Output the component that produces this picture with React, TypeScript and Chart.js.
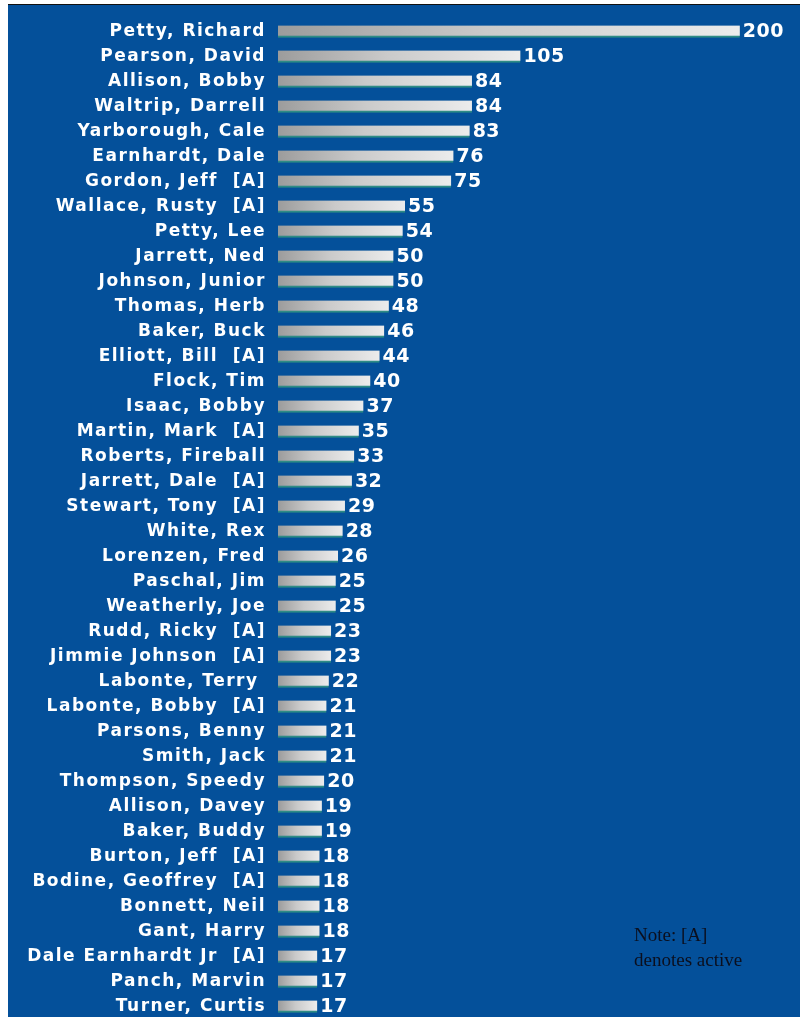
import React, { useEffect, useRef } from "react";
import { Chart, registerables } from "chart.js";

Chart.register(...registerables);

const drivers: string[] = [
  "Petty, Richard",
  "Pearson, David",
  "Allison, Bobby",
  "Waltrip, Darrell",
  "Yarborough, Cale",
  "Earnhardt, Dale",
  "Gordon, Jeff  [A]",
  "Wallace, Rusty  [A]",
  "Petty, Lee",
  "Jarrett, Ned",
  "Johnson, Junior",
  "Thomas, Herb",
  "Baker, Buck",
  "Elliott, Bill  [A]",
  "Flock, Tim",
  "Isaac, Bobby",
  "Martin, Mark  [A]",
  "Roberts, Fireball",
  "Jarrett, Dale  [A]",
  "Stewart, Tony  [A]",
  "White, Rex",
  "Lorenzen, Fred",
  "Paschal, Jim",
  "Weatherly, Joe",
  "Rudd, Ricky  [A]",
  "Jimmie Johnson  [A]",
  "Labonte, Terry ",
  "Labonte, Bobby  [A]",
  "Parsons, Benny",
  "Smith, Jack",
  "Thompson, Speedy",
  "Allison, Davey",
  "Baker, Buddy",
  "Burton, Jeff  [A]",
  "Bodine, Geoffrey  [A]",
  "Bonnett, Neil",
  "Gant, Harry",
  "Dale Earnhardt Jr  [A]",
  "Panch, Marvin",
  "Turner, Curtis",
];

const wins: number[] = [
  200, 105, 84, 84, 83, 76, 75, 55, 54, 50, 50, 48, 46, 44, 40, 37, 35, 33, 32,
  29, 28, 26, 25, 25, 23, 23, 22, 21, 21, 21, 20, 19, 19, 18, 18, 18, 18, 17,
  17, 17,
];

const noteLines: string[] = ["Note: [A]", "denotes active"];

const BLUE = "#04509a";

export default function App() {
  const ref = useRef<HTMLCanvasElement | null>(null);

  useEffect(() => {
    const canvas = ref.current;
    if (!canvas) return;

    const spacingPlugin = {
      id: "spacing",
      beforeDraw(chart: any) {
        (chart.ctx as any).letterSpacing = "1.5px";
      },
    };

    const valuePlugin = {
      id: "values",
      afterDatasetsDraw(chart: any) {
        const ctx = chart.ctx;
        const meta = chart.getDatasetMeta(0);
        ctx.save();
        (ctx as any).letterSpacing = "0.5px";
        ctx.fillStyle = "#ffffff";
        ctx.font = "bold 19px 'DejaVu Sans'";
        ctx.textAlign = "left";
        ctx.textBaseline = "middle";
        meta.data.forEach((bar: any, i: number) => {
          ctx.fillText(String(wins[i]), bar.x + 3, bar.y + 1);
        });
        ctx.restore();
      },
    };

    const chart = new Chart(canvas, {
      type: "bar",
      data: {
        labels: drivers,
        datasets: [
          {
            data: wins,
            backgroundColor: (c: any) => {
              const ch = c.chart;
              const xs = ch.scales && ch.scales.x;
              if (!xs || c.type !== "data") return "#cccccc";
              const v = wins[c.dataIndex];
              const x0 = xs.getPixelForValue(0);
              const x1 = xs.getPixelForValue(v);
              if (!isFinite(x0) || !isFinite(x1) || x1 <= x0) return "#cccccc";
              const g = ch.ctx.createLinearGradient(x0, 0, x1, 0);
              g.addColorStop(0, "#9c9c9c");
              g.addColorStop(0.45, "#cacaca");
              g.addColorStop(1, "#ececec");
              return g;
            },
            borderColor: "#2e8c84",
            borderWidth: { top: 0, right: 0, bottom: 2, left: 0 },
            borderSkipped: false,
            barThickness: 12,
          },
        ],
      },
      options: {
        animation: false,
        responsive: false,
        maintainAspectRatio: false,
        indexAxis: "y",
        layout: { padding: { top: 14, bottom: 6, left: 0, right: 14 } },
        plugins: {
          legend: { display: false },
          tooltip: { enabled: false },
          title: { display: false },
        },
        scales: {
          x: { display: false, min: 0, max: 220 },
          y: {
            grid: { display: false, drawTicks: false },
            border: { display: false },
            afterFit: (s: any) => {
              s.width = 270;
              s.paddingTop = 0;
              s.paddingBottom = 0;
            },
            ticks: {
              color: "#ffffff",
              autoSkip: false,
              padding: 12,
              font: { family: "'DejaVu Sans'", weight: "bold", size: 17 },
            },
          },
        },
      },
      plugins: [spacingPlugin, valuePlugin],
    } as any);

    return () => chart.destroy();
  }, []);

  return (
    <div
      style={{
        position: "fixed",
        left: 8,
        top: 4,
        width: 792,
        height: 1013,
        background: BLUE,
        borderTop: "1px solid #111",
        overflow: "hidden",
      }}
    >
      <canvas
        ref={ref}
        width={792}
        height={1020}
        style={{ display: "block", width: 792, height: 1020 }}
      />
      <div
        style={{
          position: "absolute",
          left: 626,
          top: 917,
          fontFamily: "'Liberation Serif', serif",
          fontSize: 19,
          lineHeight: "25px",
          color: "#0b0f1e",
        }}
      >
        {noteLines.map((l) => (
          <div key={l}>{l}</div>
        ))}
      </div>
    </div>
  );
}
